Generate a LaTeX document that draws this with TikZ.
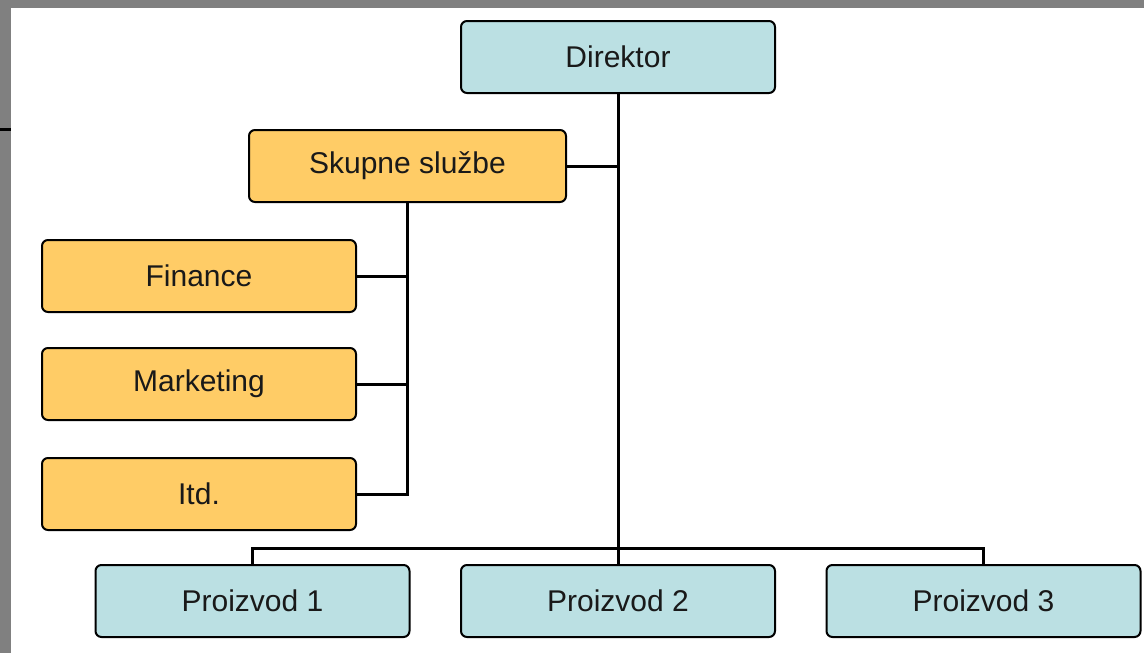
\documentclass[tikz,border=0pt]{standalone}
\usepackage{fontspec}
\setmainfont{Liberation Sans}
\usetikzlibrary{calc}
\definecolor{boxblue}{RGB}{187,224,227}
\definecolor{boxorange}{RGB}{255,204,102}
\definecolor{framegray}{RGB}{128,128,128}
\begin{document}
\begin{tikzpicture}[x=1pt, y=-1pt,
    box/.style={draw, line width=2pt, rounded corners=6pt, minimum width=314pt, minimum height=72pt, inner sep=0pt, font=\fontsize{30}{35}\selectfont, text=black!90},
    main/.style={box, fill=boxblue},
    staff/.style={box, fill=boxorange},
    link/.style={line width=3pt}]
      \useasboundingbox (0,0) rectangle (1144,653);
      \fill[framegray] (0,0) rectangle (1144,8);
      \fill[framegray] (0,0) rectangle (11,653);
      \fill[black] (0,128) rectangle (11,130.5);

      \node[main] (dir) at (618, 57) {Direktor};
      \node[staff, minimum width=317pt] (sk) at (407.5, 166) {Skupne službe};

      \node[staff] (fin) at (199, 276) {Finance};
      \node[staff] (mkt) at (199, 384) {Marketing};
      \node[staff] (itd) at (199, 494) {Itd.};

      \node[main] (p1) at (252.5, 601) {Proizvod 1};
      \node[main] (p2) at (618, 601) {Proizvod 2};
      \node[main] (p3) at (983.5, 601) {Proizvod 3};

      \coordinate (bar) at (618, 548);
      \draw[link] (dir.south) -- (p2.north);
      \draw[link] (p1.north) |- (bar) -| (p3.north);
      \draw[link] (sk.east) -- (sk.east -| dir.south);
      \draw[link] (sk.south) |- (itd.east);
      \draw[link] (fin.east) -- (fin.east -| sk.south);
      \draw[link] (mkt.east) -- (mkt.east -| sk.south);
    \end{tikzpicture}
\end{document}
